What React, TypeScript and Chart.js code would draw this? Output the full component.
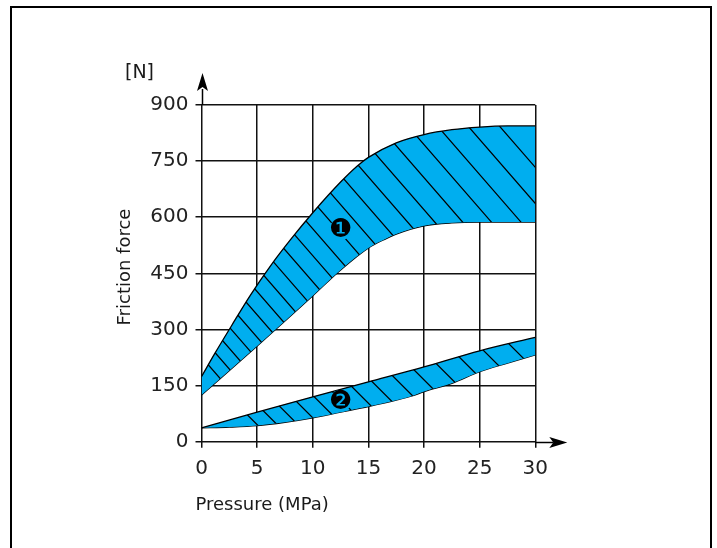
import React, { useEffect, useRef } from "react";
import { Chart, registerables } from "chart.js";

Chart.register(...registerables);

// ---- data ----
const xMin = 0;
const xMax = 30;
const xStep = 5;
const yMin = 0;
const yMax = 900;
const yStep = 150;

const band1UpperX = [0, 1.2, 2.7, 4.4, 6.3, 8, 10, 12.5, 14, 15, 17.5, 20, 22.5, 25, 27.5, 30];
const band1UpperY = [174, 236, 310, 392, 474, 540, 612, 694, 737, 760, 799, 821, 834, 841, 844, 844];
const band1LowerX = [0, 5, 10, 12.5, 15, 16.6, 17.5, 20, 22.5, 25, 30];
const band1LowerY = [125, 256, 390, 459, 518, 543, 555, 577, 585, 587, 587];

const band2UpperX = [0, 5, 10, 15, 20, 25, 30];
const band2UpperY = [37, 79, 120, 160, 200, 243, 279];
const band2LowerX = [0, 2.5, 5, 7.5, 10, 12.5, 15, 17.5, 19, 20, 22.5, 25, 27.5, 30];
const band2LowerY = [37, 39, 43, 52, 64, 79, 94, 111, 123, 134, 156, 187, 210, 232];

const bandLabels = ["❶", "❷"];
const bandLabelX = [12.5, 12.5];
const bandLabelY = [568, 109];

const xTitle = "Pressure (MPa)";
const yTitle = "Friction force";
const yUnit = "[N]";

// ---- style ----
const CYAN = "#00aeef";
const FONT = "'DejaVu Sans', sans-serif";

type P = { x: number; y: number; cp1x?: number; cp1y?: number; cp2x?: number; cp2y?: number };

function bandPath(ctx: CanvasRenderingContext2D, upper: P[], lower: P[]) {
  ctx.beginPath();
  ctx.moveTo(upper[0].x, upper[0].y);
  for (let i = 1; i < upper.length; i++) {
    const p = upper[i - 1];
    const c = upper[i];
    ctx.bezierCurveTo(p.cp2x ?? p.x, p.cp2y ?? p.y, c.cp1x ?? c.x, c.cp1y ?? c.y, c.x, c.y);
  }
  const n = lower.length;
  ctx.lineTo(lower[n - 1].x, lower[n - 1].y);
  for (let i = n - 1; i > 0; i--) {
    const c = lower[i];
    const p = lower[i - 1];
    ctx.bezierCurveTo(c.cp1x ?? c.x, c.cp1y ?? c.y, p.cp2x ?? p.x, p.cp2y ?? p.y, p.x, p.y);
  }
  ctx.closePath();
}

function drawHatch(
  ctx: CanvasRenderingContext2D,
  area: { left: number; right: number; top: number; bottom: number },
  slope: number,
  cStart: number,
  cEnd: number,
  stepBase: number,
  stepGrow: number
) {
  ctx.beginPath();
  for (let c = cStart; c > cEnd; c -= stepBase + stepGrow * (cStart - c)) {
    const x1 = area.left - 60;
    const x2 = area.right + 60;
    ctx.moveTo(x1, area.top + c + slope * (x1 - area.left));
    ctx.lineTo(x2, area.top + c + slope * (x2 - area.left));
  }
  ctx.stroke();
}

const decor = {
  id: "decor",
  afterDatasetsDraw(chart: any) {
    const ctx: CanvasRenderingContext2D = chart.ctx;
    const area = chart.chartArea;
    const m = [0, 1, 2, 3].map((i) => chart.getDatasetMeta(i).data as P[]);
    // hatching band 1
    ctx.save();
    bandPath(ctx, m[0], m[1]);
    ctx.clip();
    ctx.strokeStyle = "#000";
    ctx.lineWidth = 1.25;
    drawHatch(ctx, area, 1.15, 252, -340, 20, 0.03);
    ctx.restore();
    // hatching band 2
    ctx.save();
    bandPath(ctx, m[2], m[3]);
    ctx.clip();
    ctx.strokeStyle = "#000";
    ctx.lineWidth = 1.25;
    drawHatch(ctx, area, 1.0, 264, -110, 20, 0.04);
    ctx.restore();
    // band labels
    const xs = chart.scales.x;
    const ys = chart.scales.y;
    ctx.save();
    for (let i = 0; i < bandLabels.length; i++) {
      const px = xs.getPixelForValue(bandLabelX[i]);
      const py = ys.getPixelForValue(bandLabelY[i]);
      ctx.fillStyle = CYAN;
      ctx.beginPath();
      ctx.arc(px, py, 11, 0, Math.PI * 2);
      ctx.fill();
      ctx.fillStyle = "#000";
      ctx.font = `26px ${FONT}`;
      ctx.textAlign = "center";
      ctx.textBaseline = "middle";
      ctx.fillText(bandLabels[i], px, py + 1);
    }
    ctx.restore();
  },
  afterDraw(chart: any) {
    const ctx: CanvasRenderingContext2D = chart.ctx;
    const area = chart.chartArea;
    const x0 = Math.round(area.left) + 0.5;
    const y0 = Math.round(area.bottom) + 0.5;
    ctx.save();
    ctx.strokeStyle = "#000";
    ctx.fillStyle = "#000";
    ctx.lineWidth = 1.5;
    // y axis extension + arrow
    ctx.beginPath();
    ctx.moveTo(x0, area.top);
    ctx.lineTo(x0, area.top - 16);
    ctx.stroke();
    const ty = area.top - 32;
    ctx.beginPath();
    ctx.moveTo(x0, ty);
    ctx.lineTo(x0 + 5.5, ty + 18);
    ctx.lineTo(x0, ty + 14);
    ctx.lineTo(x0 - 5.5, ty + 18);
    ctx.closePath();
    ctx.fill();
    // x axis extension + arrow
    ctx.beginPath();
    ctx.moveTo(area.right, y0);
    ctx.lineTo(area.right + 18, y0);
    ctx.stroke();
    const tx = area.right + 32;
    ctx.beginPath();
    ctx.moveTo(tx, y0);
    ctx.lineTo(tx - 18, y0 - 5.5);
    ctx.lineTo(tx - 14, y0);
    ctx.lineTo(tx - 18, y0 + 5.5);
    ctx.closePath();
    ctx.fill();
    // frame
    ctx.lineWidth = 2;
    ctx.strokeRect(11, 7, 700, 580);
    // titles
    ctx.fillStyle = "#1a1a1a";
    ctx.font = `18px ${FONT}`;
    ctx.textAlign = "left";
    ctx.textBaseline = "alphabetic";
    ctx.fillText(xTitle, area.left - 6, area.bottom + 68);
    ctx.font = `19px ${FONT}`;
    ctx.textAlign = "center";
    ctx.fillText(yUnit, area.left - 62, area.top - 27);
    ctx.save();
    ctx.translate(area.left - 72, area.top + 162);
    ctx.rotate(-Math.PI / 2);
    ctx.font = `18px ${FONT}`;
    ctx.textAlign = "center";
    ctx.fillText(yTitle, 0, 0);
    ctx.restore();
    ctx.restore();
  },
};

export default function App() {
  const ref = useRef<HTMLCanvasElement | null>(null);
  useEffect(() => {
    const canvas = ref.current;
    if (!canvas) return;
    const pts = (xs: number[], ys: number[]) => xs.map((x, i) => ({ x, y: ys[i] }));
    const ds = (xs: number[], ys: number[], fill: any) => ({
      data: pts(xs, ys),
      borderColor: "#000",
      borderWidth: 1.3,
      pointRadius: 0,
      fill,
      backgroundColor: CYAN,
      cubicInterpolationMode: "monotone" as const,
    });
    const tickFont = { family: FONT, size: 20 };
    const chart = new Chart(canvas, {
      type: "line",
      data: {
        datasets: [
          ds(band1UpperX, band1UpperY, "+1"),
          ds(band1LowerX, band1LowerY, false),
          ds(band2UpperX, band2UpperY, "+1"),
          ds(band2LowerX, band2LowerY, false),
        ],
      },
      options: {
        animation: false,
        responsive: false,
        devicePixelRatio: 1,
        layout: { padding: { left: 120, top: 105, right: 181.7, bottom: 40 } },
        plugins: { legend: { display: false }, tooltip: { enabled: false } },
        scales: {
          x: {
            type: "linear",
            min: xMin,
            max: xMax,
            z: 1,
            grid: { color: "#111", lineWidth: 1.5, tickLength: 6, drawTicks: true },
            border: { display: false },
            ticks: { stepSize: xStep, font: tickFont, color: "#222", padding: 9, maxRotation: 0 },
            afterFit: (s: any) => {
              s.height = 66.3;
            },
          },
          y: {
            type: "linear",
            min: yMin,
            max: yMax,
            z: 1,
            grid: { color: "#111", lineWidth: 1.5, tickLength: 6, drawTicks: true },
            border: { display: false },
            ticks: { stepSize: yStep, font: tickFont, color: "#222", padding: 7 },
            afterFit: (s: any) => {
              s.width = 81.5;
            },
          },
        },
      },
      plugins: [decor],
    });
    return () => chart.destroy();
  }, []);
  return (
    <div style={{ position: "fixed", left: 0, top: 0, width: 717, height: 548, background: "#fff" }}>
      <canvas ref={ref} width={717} height={548} style={{ display: "block" }} />
    </div>
  );
}
